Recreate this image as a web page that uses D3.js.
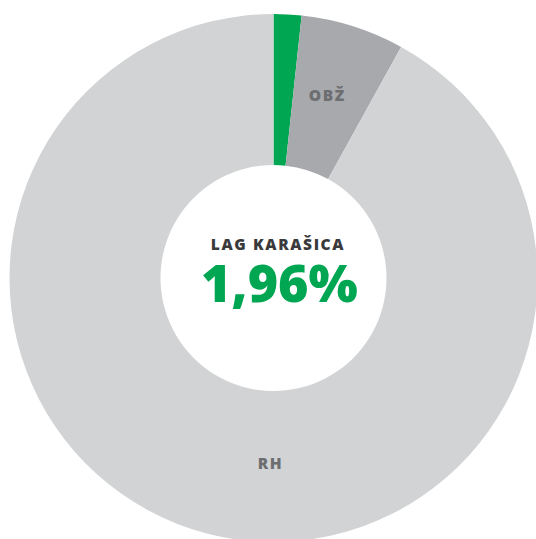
<!DOCTYPE html>
<html>
<head>
<meta charset="utf-8">
<script src="https://cdn.jsdelivr.net/npm/d3@7"></script>
<style>
  html, body { margin: 0; padding: 0; background: #fff; overflow: hidden; }
</style>
</head>
<body>
<div id="pie-container"></div>
<script>
// slice data
const names = ["LAG", "OBŽ", "RH"];
const shares = [1.7, 6.33, 91.97];
const sliceLabels = ["", "OBŽ", "RH"];
const colors = ["#00a651", "#a7a9ac", "#d1d3d4"];

// centre text
const centerTitle = "LAG KARAŠICA";
const centerValue = "1,96%";

const data = names.map((name, i) => ({ name, value: shares[i], label: sliceLabels[i] }));

const width = 536;
const height = 539;
const cx = 273.5;
const cy = 278;
const outer = 264;
const inner = 113;

const svg = d3.select('#pie-container')
    .append('svg')
    .attr('width', width)
    .attr('height', height);

const g = svg.append('g')
    .attr('transform', `translate(${cx},${cy})`);

const color = d3.scaleOrdinal()
    .domain(names)
    .range(colors);

const arc = d3.arc()
    .innerRadius(inner)
    .outerRadius(outer);

const pie = d3.pie()
    .sort(null)
    .value(d => d.value);

const arcs = pie(data);

// donut
g.append('g')
    .selectAll('path')
    .data(arcs)
    .join('path')
    .attr('fill', d => color(d.data.name))
    .attr('d', arc);

// slice labels (the big RH slice is labelled at the bottom)
g.append('g')
    .attr('font-family', '"Open Sans", sans-serif')
    .attr('font-weight', 800)
    .attr('font-size', 15.5)
    .attr('letter-spacing', 1.5)
    .attr('fill', '#6d6e71')
    .attr('text-anchor', 'middle')
    .selectAll('text')
    .data(arcs.filter(d => d.data.label))
    .join('text')
    .attr('transform', d => {
        let c;
        if (d.endAngle - d.startAngle > Math.PI) {
            c = arc.centroid({ startAngle: Math.PI, endAngle: Math.PI });
        } else {
            c = arc.centroid(d);
        }
        return `translate(${c[0] - 3},${c[1] - 3})`;
    })
    .attr('dy', '0.35em')
    .text(d => d.data.label);

// centre title and value
g.append('text')
    .attr('x', 4.5)
    .attr('y', -28.5)
    .attr('text-anchor', 'middle')
    .attr('font-family', '"Open Sans", sans-serif')
    .attr('font-weight', 800)
    .attr('font-size', 15.5)
    .attr('letter-spacing', 1.6)
    .attr('fill', '#3a3a3c')
    .text(centerTitle);

g.append('text')
    .attr('x', 6)
    .attr('y', 23.5)
    .attr('text-anchor', 'middle')
    .attr('font-family', '"Open Sans", sans-serif')
    .attr('font-weight', 800)
    .attr('font-size', 52)
    .attr('fill', '#00a651')
    .text(centerValue);
</script>
</body>
</html>
